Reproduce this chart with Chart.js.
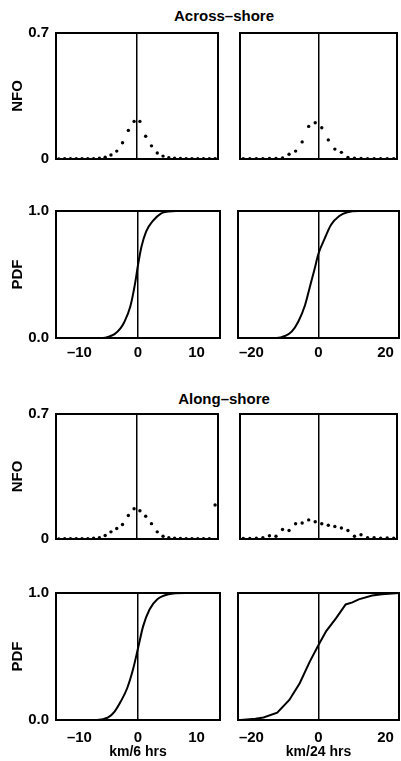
<!DOCTYPE html>
<html>
<head>
<meta charset="utf-8">
<script src="https://cdn.jsdelivr.net/npm/chart.js@4.4.0/dist/chart.umd.min.js"></script>
<style>
  body { margin: 0; background: #fff; width: 401px; height: 761px; position: relative; overflow: hidden;
         font-family: "Liberation Sans", Arial, Helvetica, sans-serif; }
  canvas { position: absolute; }
  .head { position: absolute; width: 200px; text-align: center; font-weight: bold; font-size: 15px; line-height: 18px; }
</style>
</head>
<body>
<div class="head" style="left:124px; top:7px;">Across–shore</div>
<div class="head" style="left:124px; top:390px;">Along–shore</div>
<canvas id="c1"></canvas>
<canvas id="c2"></canvas>
<canvas id="c3"></canvas>
<canvas id="c4"></canvas>
<canvas id="c5"></canvas>
<canvas id="c6"></canvas>
<canvas id="c7"></canvas>
<canvas id="c8"></canvas>
<script>
// ejes
const ticks6 = [-10, 0, 10];
const ticks24 = [-20, 0, 20];
const nfoTicks = [0, 0.7];
const pdfTicks = [0, 1];

// clases (km/6 hrs y km/24 hrs)
const bins6 = [-13.5, -12.5, -11.5, -10.5, -9.5, -8.5, -7.5, -6.5, -5.5, -4.5, -3.5, -2.5, -1.5, -0.5,
               0.5, 1.5, 2.5, 3.5, 4.5, 5.5, 6.5, 7.5, 8.5, 9.5, 10.5, 11.5, 12.5, 13.5];
const bins24 = [-23, -21, -19, -17, -15, -13, -11, -9, -7, -5, -3, -1,
                1, 3, 5, 7, 9, 11, 13, 15, 17, 19, 21, 23];

// NFO
const acrossNfo6 = [0, 0.001, 0.002, 0.002, 0.002, 0.002, 0.002, 0.004, 0.01, 0.022, 0.044, 0.09, 0.159, 0.209,
                    0.209, 0.126, 0.073, 0.033, 0.016, 0.007, 0.004, 0.003, 0.002, 0.002, 0.002, 0.002, 0.002, 0.001];
const acrossNfo24 = [0.002, 0.002, 0.002, 0.002, 0.003, 0.003, 0.006, 0.026, 0.044, 0.095, 0.181, 0.201,
                     0.174, 0.106, 0.055, 0.037, 0.009, 0.005, 0.003, 0.002, 0.002, 0.002, 0.002, 0.002];
const alongNfo6 = [0, 0.001, 0.002, 0.002, 0.002, 0.002, 0.004, 0.007, 0.02, 0.04, 0.059, 0.081, 0.132, 0.169,
                   0.158, 0.127, 0.086, 0.04, 0.015, 0.007, 0.004, 0.003, 0.002, 0.002, 0.002, 0.002, 0.002, 0.19];
const alongNfo24 = [0.003, 0.003, 0.004, 0.007, 0.018, 0.015, 0.053, 0.048, 0.085, 0.09, 0.107, 0.097,
                    0.085, 0.077, 0.07, 0.062, 0.048, 0.015, 0.024, 0.007, 0.007, 0.004, 0.006, 0.004];

// PDF
const acrossPdf6X = [-14, -6, -5, -4, -3, -2.4, -1.3, -0.5, 0, 0.6, 1.4, 2.5, 3.9, 5.2, 6.5, 14];
const acrossPdf6Y = [0, 0, 0.01, 0.03, 0.075, 0.12, 0.25, 0.43, 0.575, 0.72, 0.84, 0.92, 0.98, 0.995, 1, 1];
const acrossPdf24X = [-24, -12.5, -10, -8, -6, -4, -2.6, -1.2, 0, 1.8, 3.7, 6.2, 8.6, 12, 24];
const acrossPdf24Y = [0, 0, 0.016, 0.05, 0.13, 0.26, 0.4, 0.54, 0.665, 0.78, 0.89, 0.96, 0.99, 1, 1];
const alongPdf6X = [-14, -7, -5.1, -4, -2.95, -1.85, -0.87, 0.05, 0.87, 1.97, 3.3, 5.2, 8, 14];
const alongPdf6Y = [0, 0, 0.02, 0.066, 0.145, 0.25, 0.395, 0.574, 0.737, 0.87, 0.95, 0.99, 1, 1];
const alongPdf24X = [-24, -23.2, -18.8, -16.4, -12.3, -8.7, -5.6, -2.6, 0, 2.3, 5.2, 8.1, 10.1, 12, 16, 18.9, 24];
const alongPdf24Y = [0, 0, 0.01, 0.02, 0.058, 0.158, 0.29, 0.46, 0.59, 0.7, 0.8, 0.91, 0.926, 0.95, 0.98, 0.99, 1];

Chart.defaults.font.family = '"Liberation Sans", Arial, Helvetica, sans-serif';
Chart.defaults.font.weight = 'bold';
Chart.defaults.font.size = 15;
Chart.defaults.color = '#000';

const PADTOP = 12; // espacio para la etiqueta superior del eje y

function fmtX(v) {
    return v < 0 ? '–' + Math.abs(v) : String(v);
}

// tamaño fijo del eje, sin el relleno automatico de las etiquetas
function fixSize(s, w, h) {
    if (w !== null) s.width = w;
    if (h !== null) s.height = h;
    s.paddingTop = 0;
    s.paddingBottom = 0;
    s.paddingLeft = 0;
    s.paddingRight = 0;
}

function makePanel(p) {
    const cv = document.getElementById(p.id);
    cv.width = p.w;
    cv.height = p.plotH + PADTOP + p.xh;
    cv.style.left = p.left + 'px';
    cv.style.top = (p.plotTop - PADTOP) + 'px';

    const isPdf = p.kind === 'pdf';
    const pts = p.xs.map((x, i) => ({ x: x, y: p.ys[i] }));
    const yt = isPdf ? pdfTicks : nfoTicks;
    const frame = { display: true, color: '#000', width: 2 };

    const ds = isPdf ? {
        data: pts, showLine: true, pointRadius: 0, borderColor: '#000', borderWidth: 2,
        cubicInterpolationMode: p.smooth ? 'monotone' : 'default', tension: 0
    } : {
        data: pts, showLine: false, pointRadius: 1.7, pointBorderWidth: 0,
        backgroundColor: '#000', borderColor: '#000'
    };

    new Chart(cv, {
        type: 'scatter',
        data: { datasets: [ds] },
        options: {
            responsive: false,
            animation: false,
            layout: { padding: { top: PADTOP, right: 2, left: 0, bottom: 0 } },
            plugins: { legend: { display: false }, tooltip: { enabled: false } },
            scales: {
                x: {
                    type: 'linear', position: 'bottom', min: -p.xr, max: p.xr,
                    afterBuildTicks: s => { s.ticks = p.xt.map(v => ({ value: v })); },
                    afterFit: s => fixSize(s, null, p.xh),
                    ticks: { display: p.xLabels, padding: p.xPad, maxRotation: 0, autoSkip: false, callback: fmtX },
                    grid: {
                        drawTicks: false, lineWidth: 1.5,
                        color: c => (c.tick && c.tick.value === 0) ? '#000' : 'rgba(0,0,0,0)'
                    },
                    border: frame,
                    title: { display: !!p.xTitle, text: p.xTitle || '', font: { size: 14 }, padding: { top: 0, bottom: 0 } }
                },
                y: {
                    type: 'linear', position: 'left', min: 0, max: isPdf ? 1 : 0.7,
                    afterBuildTicks: s => { s.ticks = yt.map(v => ({ value: v })); },
                    afterFit: s => fixSize(s, p.yw, null),
                    ticks: { display: !!p.yTitle, padding: 7, callback: v => (!isPdf && v === 0) ? '0' : v.toFixed(1) },
                    grid: { display: false, drawTicks: false },
                    border: frame,
                    title: { display: !!p.yTitle, text: p.yTitle || '', font: { size: 15 }, padding: { top: 9, bottom: 0 } }
                },
                x2: {
                    axis: 'x', type: 'linear', position: 'top', min: 0, max: 1,
                    afterFit: s => fixSize(s, null, 0),
                    ticks: { display: false }, grid: { display: false, drawTicks: false }, border: frame
                },
                y2: {
                    axis: 'y', type: 'linear', position: 'right', min: 0, max: 1,
                    afterFit: s => fixSize(s, 0, null),
                    ticks: { display: false }, grid: { display: false, drawTicks: false }, border: frame
                }
            }
        }
    });
}

makePanel({ id: 'c1', left: 0, plotTop: 33, plotH: 128, w: 222, yw: 56, xh: 2, xr: 14, xt: ticks6, kind: 'nfo',
            xs: bins6, ys: acrossNfo6, yTitle: 'NFO', xLabels: false });
makePanel({ id: 'c2', left: 236, plotTop: 33, plotH: 128, w: 165, yw: 2, xh: 2, xr: 24, xt: ticks24, kind: 'nfo',
            xs: bins24, ys: acrossNfo24, xLabels: false });
makePanel({ id: 'c3', left: 0, plotTop: 211, plotH: 127, w: 222, yw: 56, xh: 24, xr: 14, xt: ticks6, kind: 'pdf', smooth: true,
            xs: acrossPdf6X, ys: acrossPdf6Y, yTitle: 'PDF', xLabels: true, xPad: 6 });
makePanel({ id: 'c4', left: 236, plotTop: 211, plotH: 127, w: 165, yw: 2, xh: 24, xr: 24, xt: ticks24, kind: 'pdf', smooth: true,
            xs: acrossPdf24X, ys: acrossPdf24Y, xLabels: true, xPad: 6 });
makePanel({ id: 'c5', left: 0, plotTop: 414, plotH: 127, w: 222, yw: 56, xh: 2, xr: 14, xt: ticks6, kind: 'nfo',
            xs: bins6, ys: alongNfo6, yTitle: 'NFO', xLabels: false });
makePanel({ id: 'c6', left: 236, plotTop: 414, plotH: 127, w: 165, yw: 2, xh: 2, xr: 24, xt: ticks24, kind: 'nfo',
            xs: bins24, ys: alongNfo24, xLabels: false });
makePanel({ id: 'c7', left: 0, plotTop: 593, plotH: 127, w: 222, yw: 56, xh: 41, xr: 14, xt: ticks6, kind: 'pdf', smooth: true,
            xs: alongPdf6X, ys: alongPdf6Y, yTitle: 'PDF', xLabels: true, xPad: 9, xTitle: 'km/6 hrs' });
makePanel({ id: 'c8', left: 236, plotTop: 593, plotH: 127, w: 165, yw: 2, xh: 41, xr: 24, xt: ticks24, kind: 'pdf', smooth: false,
            xs: alongPdf24X, ys: alongPdf24Y, xLabels: true, xPad: 9, xTitle: 'km/24 hrs' });
</script>
</body>
</html>
